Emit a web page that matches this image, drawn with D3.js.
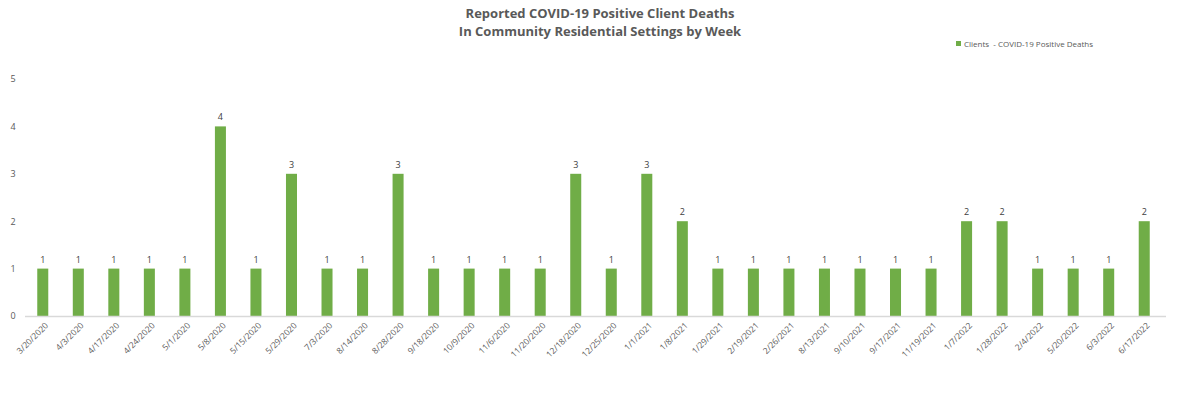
<!DOCTYPE html>
<html>
<head>
<meta charset="utf-8">
<script src="https://cdnjs.cloudflare.com/ajax/libs/d3/7.8.5/d3.min.js"></script>
<style>
  body { margin: 0; background: #fff; }
  text { font-family: "Open Sans", sans-serif; }
</style>
</head>
<body>
<div id="chart"></div>
<script>
var weeks = ["3/20/2020", "4/3/2020", "4/17/2020", "4/24/2020", "5/1/2020", "5/8/2020", "5/15/2020", "5/29/2020",
  "7/3/2020", "8/14/2020", "8/28/2020", "9/18/2020", "10/9/2020", "11/6/2020", "11/20/2020", "12/18/2020",
  "12/25/2020", "1/1/2021", "1/8/2021", "1/29/2021", "2/19/2021", "2/26/2021", "8/13/2021", "9/10/2021",
  "9/17/2021", "11/19/2021", "1/7/2022", "1/28/2022", "2/4/2022", "5/20/2022", "6/3/2022", "6/17/2022"];
var deaths = [1, 1, 1, 1, 1, 4, 1, 3, 1, 1, 3, 1, 1, 1, 1, 3, 1, 3, 2, 1, 1, 1, 1, 1, 1, 1, 2, 2, 1, 1, 1, 2];
var yTicks = [0, 1, 2, 3, 4, 5];
var seriesName = "Clients  - COVID-19 Positive Deaths";
var titleLines = ["Reported COVID-19 Positive Client Deaths", "In Community Residential Settings by Week"];

var width = 1200, height = 393;
var barColour = "#70ad47";

var svg = d3.select("#chart").append("svg")
  .attr("width", width)
  .attr("height", height);

var x = d3.scaleBand()
  .domain(weeks)
  .range([25, 1162])
  .paddingInner(0.69)
  .paddingOuter(0.345);

var y = d3.scaleLinear()
  .domain([0, 5])
  .range([316, 79]);

// title
svg.selectAll(".title")
  .data(titleLines)
  .enter().append("text")
  .attr("class", "title")
  .attr("x", 600)
  .attr("y", function(d, i) { return 18 + i * 18; })
  .attr("text-anchor", "middle")
  .style("font-size", "13px")
  .style("font-weight", "bold")
  .style("fill", "#595959")
  .text(function(d) { return d; });

// legend
svg.append("rect")
  .attr("x", 956)
  .attr("y", 41)
  .attr("width", 5)
  .attr("height", 5)
  .style("fill", barColour);
svg.append("text")
  .attr("x", 964)
  .attr("y", 47)
  .style("font-size", "8px")
  .style("fill", "#595959")
  .style("white-space", "pre")
  .text(seriesName);

// y axis labels (no line)
var yAxis = d3.axisLeft(y).tickValues(yTicks).tickFormat(d3.format("d")).tickSize(0).tickPadding(0);
var gy = svg.append("g")
  .attr("transform", "translate(16,0)")
  .call(yAxis);
gy.select(".domain").remove();
gy.selectAll("text")
  .attr("text-anchor", "middle")
  .attr("x", -3)
  .style("font-size", "9px")
  .style("fill", "#595959")
  .style("font-family", "Open Sans, sans-serif");

// bars
svg.selectAll(".bar")
  .data(weeks)
  .enter().append("rect")
  .attr("class", "bar")
  .attr("x", function(d) { return x(d); })
  .attr("y", function(d, i) { return y(deaths[i]); })
  .attr("width", x.bandwidth())
  .attr("height", function(d, i) { return y(0) - y(deaths[i]); })
  .style("fill", barColour);

// value labels
svg.selectAll(".val")
  .data(weeks)
  .enter().append("text")
  .attr("class", "val")
  .attr("x", function(d) { return x(d) + x.bandwidth() / 2; })
  .attr("y", function(d, i) { return y(deaths[i]) - 6; })
  .attr("text-anchor", "middle")
  .style("font-size", "9px")
  .style("fill", "#404040")
  .text(function(d, i) { return deaths[i]; });

// x axis
var xAxis = d3.axisBottom(x).tickSize(0).tickPadding(0);
var gx = svg.append("g")
  .attr("transform", "translate(0," + y(0) + ")")
  .call(xAxis);
gx.select(".domain")
  .attr("d", "M25,0.5H1166")
  .style("stroke", "#d9d9d9")
  .style("stroke-width", 1.5);
gx.selectAll("text")
  .attr("text-anchor", "end")
  .attr("dy", null)
  .attr("y", 0)
  .attr("transform", "translate(6,10) rotate(-45)")
  .style("font-size", "8.5px")
  .style("fill", "#595959")
  .style("font-family", "Open Sans, sans-serif");
</script>
</body>
</html>
